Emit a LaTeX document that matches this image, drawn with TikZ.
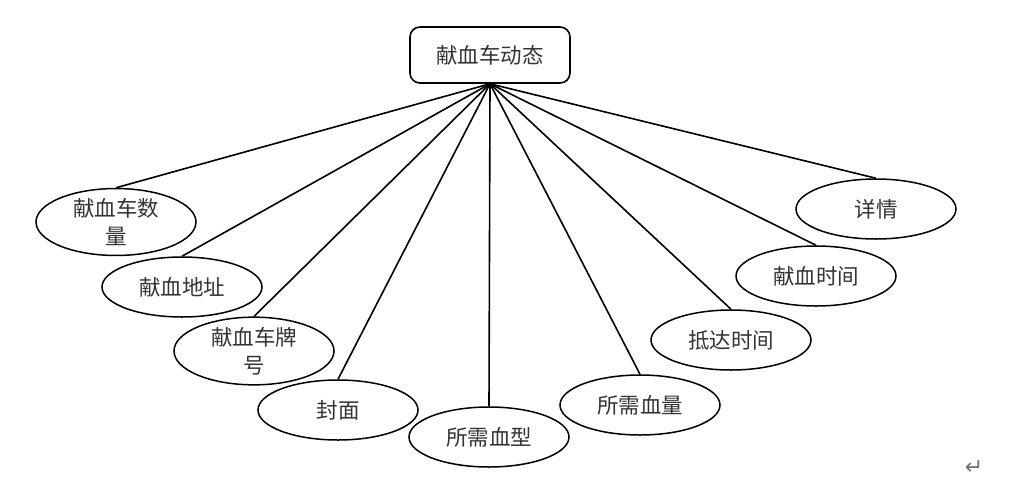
\documentclass[tikz,border=0pt]{standalone}
\usepackage{fontspec}
\newfontfamily\cjk{Noto Sans CJK SC}
\newfontfamily\djv{DejaVu Sans}
\usetikzlibrary{shapes.geometric}
\begin{document}
\begin{tikzpicture}[x=1pt,y=-1pt,
  root/.style={draw,line width=1.6pt,rounded corners=10pt,minimum width=160pt,minimum height=56pt,font=\cjk\fontsize{21.5}{24}\selectfont,text=black!80},
  attr/.style={draw,ellipse,line width=1.5pt,minimum width=160pt,minimum height=60pt,inner sep=0pt,align=center,font=\cjk\fontsize{21.5}{28}\selectfont,text=black!80},
  link/.style={line width=1.6pt}]
\useasboundingbox (0,0) rectangle (1026,480);
\node[root] (r) at (490,55) {献血车动态};
\node[attr] (a1) at (116,222) {献血车数\\量};
\node[attr] (a2) at (182,287) {献血地址};
\node[attr] (a3) at (254,351) {献血车牌\\号};
\node[attr] (a4) at (338,410) {封面};
\node[attr] (a5) at (489,437) {所需血型};
\node[attr] (a6) at (640,405) {所需血量};
\node[attr] (a7) at (731,340) {抵达时间};
\node[attr] (a8) at (816,276) {献血时间};
\node[attr] (a9) at (876,209) {详情};
\foreach \i in {1,...,9} \draw[link] (r.south) -- (a\i.north);
\node[font=\djv\fontsize{22}{24}\selectfont,text=black!55] (pm) at (974,468) {↵};
\end{tikzpicture}
\end{document}
